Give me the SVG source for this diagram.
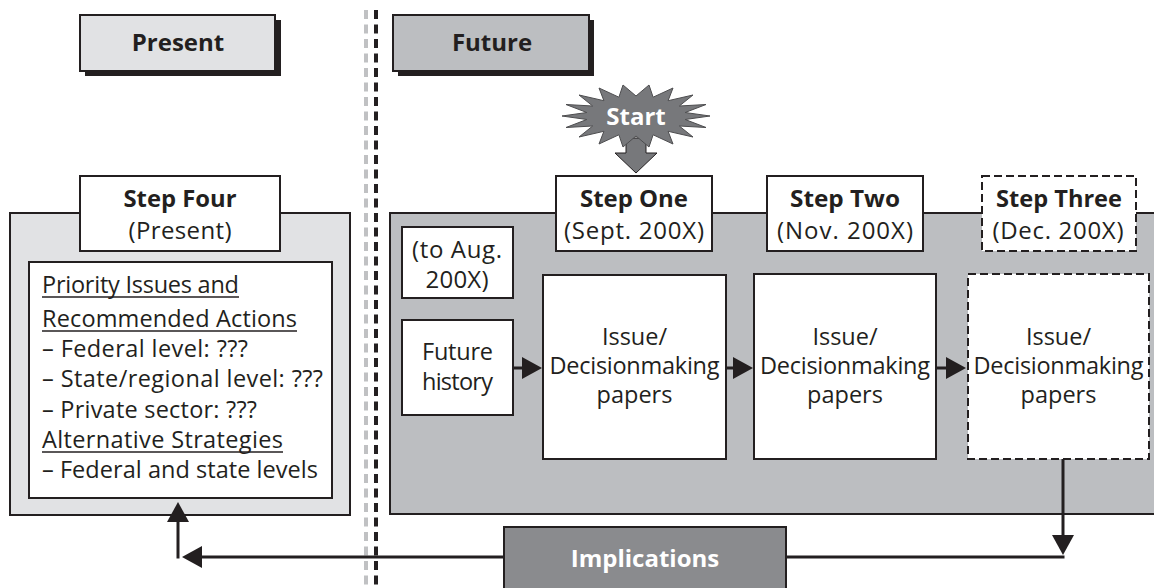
<svg xmlns="http://www.w3.org/2000/svg" width="1154" height="588" viewBox="0 0 1154 588">
<style>
text{font-family:"Open Sans","Noto Sans","Liberation Sans",sans-serif;fill:#231f20}
.r{font-size:23.5px}
.s{font-size:24px}
.b{font-size:23.5px;font-weight:bold}
.h{font-size:24px;font-weight:bold}
.w{fill:#ffffff}
.c{text-anchor:middle}
.box{fill:#ffffff;stroke:#231f20;stroke-width:2}
.dash{fill:#ffffff;stroke:#231f20;stroke-width:2;stroke-dasharray:8 4}
.conn{fill:none;stroke:#231f20;stroke-width:3}
.ul{stroke:#231f20;stroke-width:1.5}
</style>
<defs>
<marker id="ah" markerUnits="userSpaceOnUse" markerWidth="20" markerHeight="22" refX="0" refY="11" orient="auto" overflow="visible">
<path d="M0,0 L20,11 L0,22 z" fill="#231f20"/>
</marker>
</defs>
<g id="divider">
<line x1="366" y1="10" x2="366" y2="588" stroke="#c0c1c3" stroke-width="4" stroke-dasharray="9 5.5"/>
<line x1="376" y1="10" x2="376" y2="588" stroke="#231f20" stroke-width="4" stroke-dasharray="9 5.5"/>
</g>
<g id="present">
<rect x="85" y="20" width="196" height="56" fill="#231f20"/>
<rect x="80" y="15" width="195" height="56" fill="#e1e2e4" stroke="#231f20" stroke-width="2"/>
<text class="h c" x="178" y="51">Present</text>
</g>
<g id="future">
<rect x="398" y="20" width="196" height="56" fill="#231f20"/>
<rect x="393" y="15" width="196" height="56" fill="#bcbec1" stroke="#231f20" stroke-width="2"/>
<text class="h c" x="492" y="51">Future</text>
</g>
<g id="step-four">
<rect x="10" y="213" width="340" height="302" fill="#e1e2e4" stroke="#231f20" stroke-width="2"/>
<rect class="box" x="80" y="176" width="200" height="75"/>
<text class="b c" x="180" y="207" textLength="113" lengthAdjust="spacingAndGlyphs">Step Four</text>
<text class="s c" x="180" y="239" textLength="103">(Present)</text>
<rect class="box" x="29" y="262" width="303" height="236"/>
<text class="r" x="42" y="293" textLength="197">Priority Issues and</text>
<line class="ul" x1="42" y1="297" x2="239" y2="297"/>
<text class="r" x="42" y="327" textLength="255">Recommended Actions</text>
<line class="ul" x1="42" y1="331" x2="297" y2="331"/>
<text class="r" x="42" y="357" textLength="206">– Federal level: ???</text>
<text class="r" x="42" y="387" textLength="281">– State/regional level: ???</text>
<text class="r" x="42" y="418" textLength="215">– Private sector: ???</text>
<text class="r" x="42" y="448" textLength="241">Alternative Strategies</text>
<line class="ul" x1="42" y1="452" x2="283" y2="452"/>
<text class="r" x="42" y="478" textLength="276">– Federal and state levels</text>
</g>
<g id="future-panel">
<rect x="390" y="213" width="780" height="301" fill="#bcbec1" stroke="#231f20" stroke-width="2"/>
</g>
<g id="start">
<polygon points="626,138 646,138 646,153 657,153 636,173 615,153 626,153" fill="#77787b" stroke="#231f20" stroke-width="1"/>
<polygon points="710,116 685.2,119.5 706,127.5 679.3,126 693,137 668.1,131.3 673,144 653.1,134.8 649,147 636,136 623,147 618.9,134.8 599,144 603.9,131.3 579,137 592.7,126 566,127.5 586.8,119.5 562,116 586.8,112.5 566,104.5 592.7,106 579,95 603.9,100.7 599,88 618.9,97.2 623,85 636,96 649,85 653.1,97.2 673,88 668.1,100.7 693,95 679.3,106 706,104.5 685.2,112.5" fill="#77787b" stroke="#4d4d4f" stroke-width="1"/>
<text class="h c w" x="636" y="125">Start</text>
</g>
<g id="step-one">
<rect class="box" x="556" y="176" width="156" height="75"/>
<text class="b c" x="634" y="207" textLength="108" lengthAdjust="spacingAndGlyphs">Step One</text>
<text class="s c" x="634" y="239" textLength="140">(Sept. 200X)</text>
</g>
<g id="step-two">
<rect class="box" x="767" y="176" width="156" height="75"/>
<text class="b c" x="845" y="207" textLength="110" lengthAdjust="spacingAndGlyphs">Step Two</text>
<text class="s c" x="845" y="239" textLength="136">(Nov. 200X)</text>
</g>
<g id="step-three">
<rect class="dash" x="982" y="176" width="154" height="75"/>
<text class="b c" x="1059" y="207" textLength="126" lengthAdjust="spacingAndGlyphs">Step Three</text>
<text class="s c" x="1058" y="239" textLength="131">(Dec. 200X)</text>
</g>
<g id="to-aug">
<rect class="box" x="402" y="227" width="111" height="71"/>
<text class="s c" x="457" y="258" textLength="90">(to Aug.</text>
<text class="s c" x="457" y="288" textLength="63">200X)</text>
</g>
<g id="future-history">
<rect class="box" x="402" y="320" width="111" height="95"/>
<text class="r c" x="457.5" y="360" textLength="71">Future</text>
<text class="r c" x="457.5" y="390" textLength="71">history</text>
</g>
<g id="papers-one">
<rect class="box" x="543" y="275" width="183" height="184"/>
<text class="r c" x="634.5" y="345">Issue/</text>
<text class="r c" x="634.5" y="374" textLength="170">Decisionmaking</text>
<text class="r c" x="634.5" y="403">papers</text>
</g>
<g id="papers-two">
<rect class="box" x="754" y="274" width="182" height="185"/>
<text class="r c" x="845" y="345">Issue/</text>
<text class="r c" x="845" y="374" textLength="170">Decisionmaking</text>
<text class="r c" x="845" y="403">papers</text>
</g>
<g id="papers-three">
<rect class="dash" x="968" y="274" width="181" height="185"/>
<text class="r c" x="1058.5" y="345">Issue/</text>
<text class="r c" x="1058.5" y="374" textLength="170">Decisionmaking</text>
<text class="r c" x="1058.5" y="403">papers</text>
</g>
<g id="implications">
<rect x="504" y="527" width="282" height="70" fill="#8a8b8e" stroke="#231f20" stroke-width="2"/>
<text class="h c w" x="645" y="567">Implications</text>
</g>
<g id="connectors">
<line class="conn" x1="513" y1="368" x2="522" y2="368" marker-end="url(#ah)"/>
<line class="conn" x1="726" y1="368" x2="733" y2="368" marker-end="url(#ah)"/>
<line class="conn" x1="936" y1="368" x2="946" y2="368" marker-end="url(#ah)"/>
<line class="conn" x1="1063" y1="459" x2="1063" y2="535" marker-end="url(#ah)"/>
<polyline class="conn" points="786,557 1064.5,557"/>
<line class="conn" x1="504" y1="557" x2="202" y2="557" marker-end="url(#ah)"/>
<line class="conn" x1="178" y1="558.5" x2="178" y2="522" marker-end="url(#ah)"/>
</g>
</svg>
